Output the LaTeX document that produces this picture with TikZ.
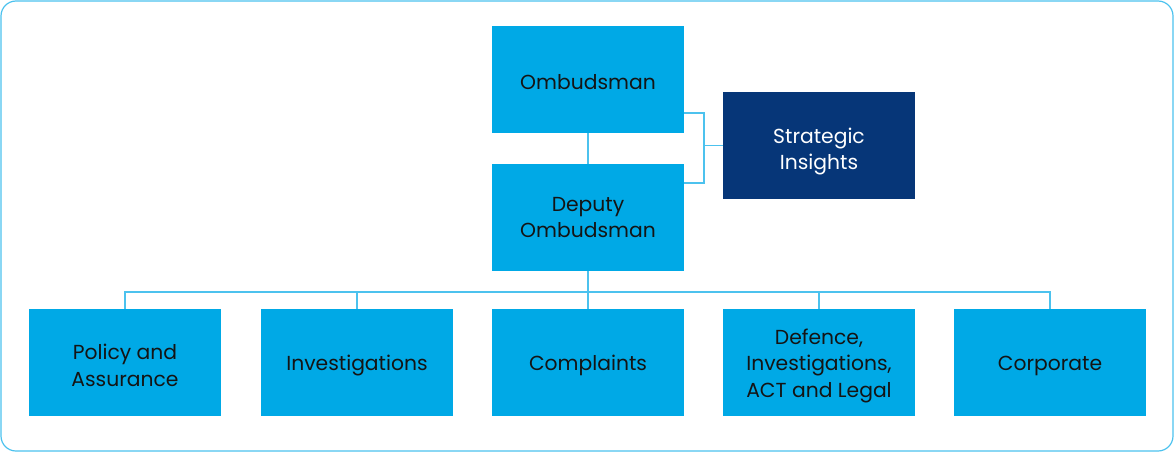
\documentclass[tikz,border=0pt]{standalone}
\usepackage{fontspec}
\setmainfont{Poppins}
\usetikzlibrary{positioning}

\definecolor{boxblue}{HTML}{00A9E6}
\definecolor{navy}{HTML}{063678}
\definecolor{linkblue}{HTML}{4CC2EE}

% Text nach unten schieben, ohne die Box zu aendern
\newcommand{\tief}[2][3pt]{\raisebox{-#1}[\height][\depth]{#2}}

\begin{document}
\begin{tikzpicture}[
    x=1pt, y=-1pt,
    einheit/.style={
      rectangle,
      fill=boxblue,
      minimum width=192pt,
      minimum height=107pt,
      align=center,
      text=black!92,
      font=\fontsize{20.3}{26.5}\selectfont},
    stab/.style={einheit, fill=navy, text=white},
    verbindung/.style={draw=linkblue, line width=1.6pt}
    ]

  \useasboundingbox (0,0) rectangle (1174,452);
  \draw[linkblue, line width=1.2pt, rounded corners=15pt] (1,1) rectangle (1173,451);

  \node at (588, 79.5) (ombudsman) [einheit] {\tief{Ombudsman}};
\node at (588, 217.5) (deputy) [einheit] {Deputy\\Ombudsman};
\node at (819, 145.5) (strategie) [stab] {\tief[6pt]{Strategic}\\\tief[6pt]{Insights}};
\node at (125, 362.5) (policy) [einheit] {\tief{Policy and}\\\tief{Assurance}};
\node at (357, 362.5) (investigations) [einheit] {\tief{Investigations}};
\node at (588, 362.5) (complaints) [einheit] {\tief{Complaints}};
\node at (819, 362.5) (defence) [einheit] {\tief{Defence,}\\\tief{Investigations,}\\\tief{ACT and Legal}};
\node at (1050, 362.5) (corporate) [einheit] {\tief{Corporate}};

  \coordinate (knick) at (704, 145.5);
  \coordinate (bus) at (588, 292);

  \path[verbindung]
        (ombudsman) -- (deputy)
(ombudsman.east |- 0,113) -| (knick) |- (deputy.east |- 0,183)
(knick) -- (strategie.west)
(deputy) -- (bus)
(policy.north) |- (bus) -| (corporate.north)
(investigations.north) -- (investigations.north |- bus)
(complaints.north) -- (bus)
(defence.north) -- (defence.north |- bus)
   ;

\end{tikzpicture}
\end{document}
